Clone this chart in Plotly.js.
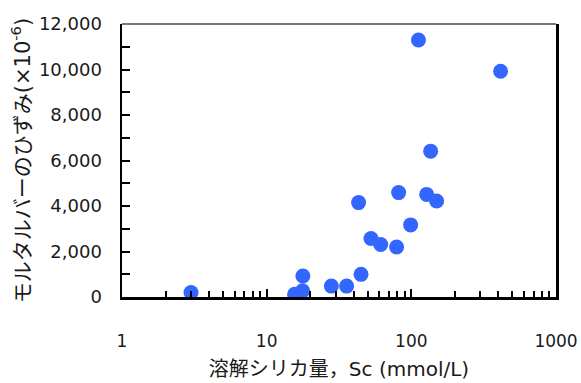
<!DOCTYPE html>
<html>
<head>
<meta charset="utf-8">
<script src="https://cdn.plot.ly/plotly-3.0.1.min.js"></script>
<style>html,body{margin:0;padding:0;background:#fff;}#chart{width:581px;height:383px;}</style>
</head>
<body>
<div id="chart"></div>
<script>
// Dissolved silica Sc (mmol/L)
const silica = [3.0, 15.6, 17.7, 17.8, 28, 35.7, 44.9, 43.2, 52.6, 61.4, 79.1, 98.9, 81.7, 127.6, 149.6, 136, 112, 414];
// Mortar bar strain (x10^-6)
const strain = [200, 120, 270, 920, 480, 480, 995, 4150, 2570, 2310, 2200, 3170, 4590, 4510, 4220, 6410, 11300, 9920];
const xTickVals = [1, 10, 100, 1000];
const xTickText = ['1', '10', '100', '1000'];
const xTitle = '溶解シリカ量，Sc (mmol/L)';
const yTitle = 'モルタルバーのひずみ(×10<sup>-6</sup>)';

const fontFam = 'DejaVu Sans, Noto Sans CJK JP, sans-serif';

const trace = {
  x: silica, y: strain, type: 'scatter', mode: 'markers',
  marker: {size: 15, color: '#3366ff', line: {width: 0}},
  hoverinfo: 'none'
};

const layout = {
  width: 581, height: 383,
  margin: {l: 122, r: 25, t: 24, b: 86},
  paper_bgcolor: '#fff', plot_bgcolor: '#fff',
  showlegend: false,
  font: {family: fontFam, color: '#1a1a1a', size: 17},
  xaxis: {
    type: 'log', range: [0, 3],
    tickvals: xTickVals, ticktext: xTickText,
    ticks: 'inside', ticklen: 8, tickwidth: 2, tickcolor: '#000',
    minor: {ticks: 'inside', ticklen: 6, tickwidth: 2, tickcolor: '#000', dtick: 'D1'},
    showline: true, linecolor: '#000', linewidth: 2.5, mirror: false,
    showgrid: false, zeroline: false,
    ticklabelstandoff: 27,
    tickfont: {size: 17, family: fontFam},
    title: {text: xTitle, font: {size: 20, family: fontFam}, standoff: 12}
  },
  yaxis: {
    range: [0, 12000], dtick: 2000, tickformat: ',d',
    ticks: 'inside', ticklen: 8, tickwidth: 2, tickcolor: '#000',
    minor: {ticks: 'inside', ticklen: 8, tickwidth: 2, tickcolor: '#000', dtick: 1000},
    showline: true, linecolor: '#000', linewidth: 2.5, mirror: true,
    showgrid: false, zeroline: false,
    ticklabelstandoff: 14,
    tickfont: {size: 18, family: fontFam},
    title: {text: yTitle, font: {size: 21, family: fontFam}, standoff: 3}
  },
  shapes: [{type: 'line', xref: 'paper', yref: 'paper', x0: 0, x1: 1, y0: 1, y1: 1,
            line: {color: '#777', width: 2}}]
};

Plotly.newPlot('chart', [trace], layout, {staticPlot: true, displayModeBar: false});
</script>
</body>
</html>
